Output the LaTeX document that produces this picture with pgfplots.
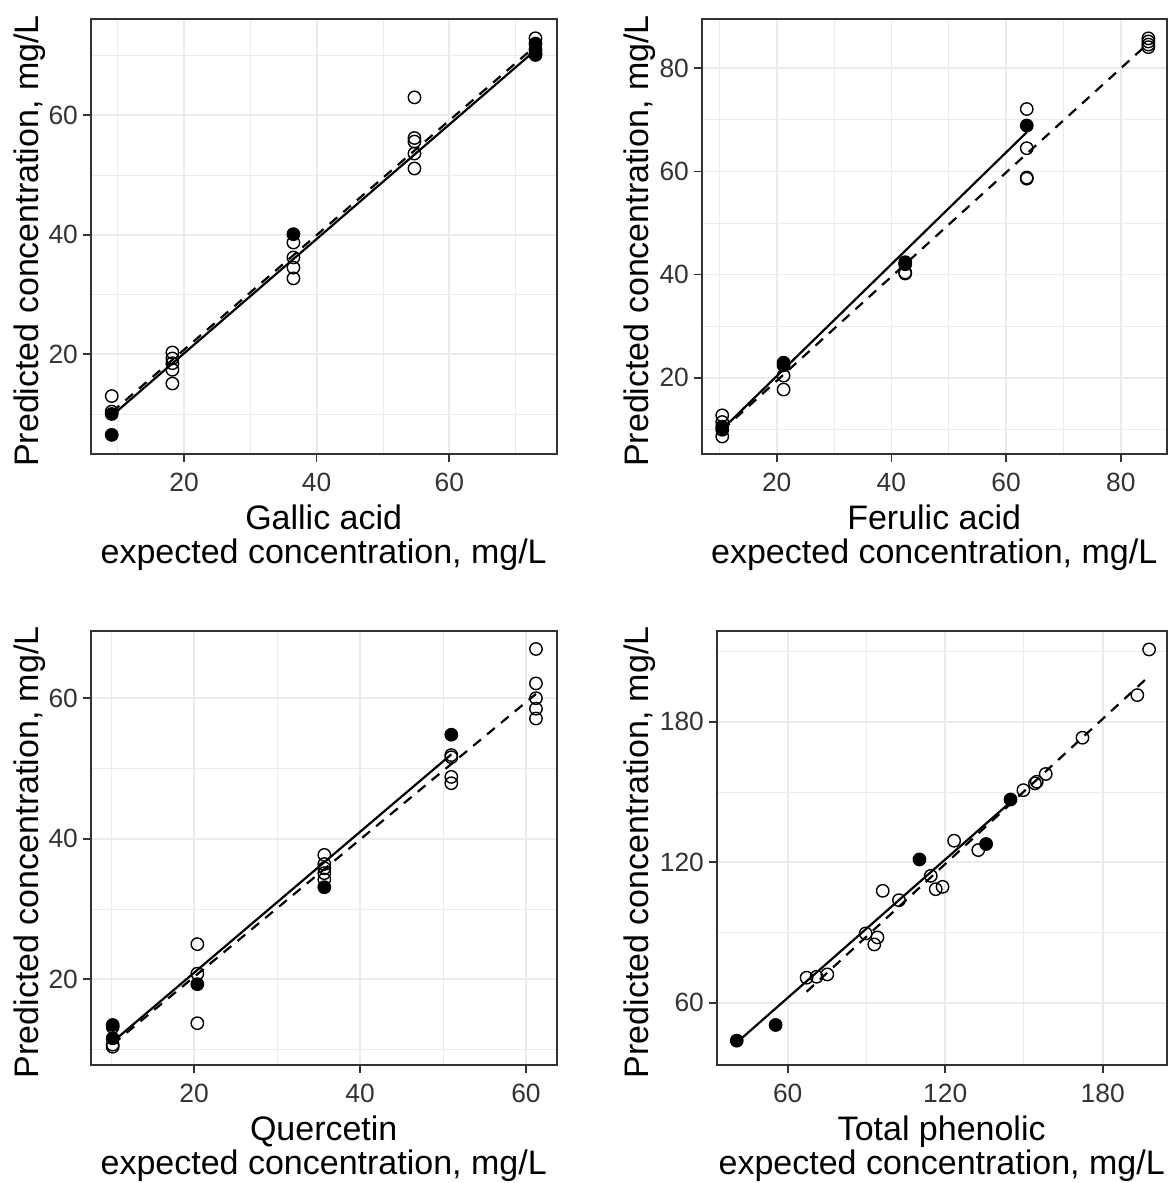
\documentclass[border=0pt]{standalone}
\usepackage{fontspec}
\setmainfont{Liberation Sans}
\usepackage{pgfplots}
\pgfplotsset{compat=1.18}
\definecolor{frame}{HTML}{333333}
\definecolor{gridc}{HTML}{EBEBEB}
\definecolor{ticktext}{HTML}{333333}
\pgfplotsset{
  panel/.style={
    scale only axis, anchor=south west,
    axis line style={draw=frame, line width=0.85pt},
    tick style={draw=frame, line width=0.85pt},
    major tick length=4pt, minor tick length=0pt,
    tick align=outside, tick pos=left,
    grid=both,
    major grid style={draw=gridc, line width=0.9pt},
    minor grid style={draw=gridc, line width=0.45pt},
    /pgf/number format/assume math mode=true,
    ticklabel style={font=\fontsize{13.2}{15}\selectfont, text=ticktext},
    xticklabel style={anchor=north, inner sep=0pt, yshift=-5.5pt},
    yticklabel style={anchor=east, inner sep=0pt, xshift=-2.2pt},
    label style={font=\fontsize{17}{17}\selectfont},
    xlabel style={at={(rel axis cs:0.5,0)}, anchor=north, inner sep=0pt, align=center, yshift=-25.4pt},
    ylabel={Predicted concentration, mg/L},
    clip=false,
  },
  opn/.style={only marks, mark=o, mark size=3.1pt, mark options={line width=0.7pt, draw=black}},
  fil/.style={only marks, mark=*, mark size=3.1pt, mark options={line width=0.7pt, draw=black, fill=black}},
  sol/.style={no marks, black, line width=1.1pt},
  dsh/.style={no marks, black, line width=1.1pt, dash pattern=on 5pt off 4pt},
}
\begin{document}
\begin{tikzpicture}
% Panel 1: Gallic acid
\begin{axis}[panel, at={(45.35pt,-227pt)}, width=233pt, height=217.35pt,
  xmin=5.93, xmax=76.2, ymin=3.3, ymax=76.07,
  xtick={20,40,60}, ytick={20,40,60}, minor xtick={10,30,50,70}, minor ytick={10,30,50,70},
  xlabel={Gallic acid\\expected concentration, mg/L},
  ylabel style={at={(rel axis cs:-0.1667,0.49)}, anchor=north, inner sep=0pt}]
\addplot[opn] coordinates {(9.1,13.0) (9.1,10.4) (18.25,20.3) (18.25,19.3) (18.25,18.5) (18.25,17.4) (18.25,15.1)
 (36.5,38.7) (36.5,36.2) (36.5,34.5) (36.5,32.7) (54.75,63.0) (54.75,56.2) (54.75,55.6) (54.75,53.6) (54.75,51.1)
 (73,72.9) (73,70.3)};
\addplot[fil] coordinates {(9.1,10.0) (9.1,6.5) (36.5,40.1) (73,72.0) (73,71.0) (73,70.1)};
\addplot[sol] coordinates {(9.1,9.7) (73,70.9)};
\addplot[dsh] coordinates {(9.1,10.3) (73,71.6)};
\end{axis}
% Panel 2: Ferulic acid
\begin{axis}[panel, at={(350.85pt,-227pt)}, width=232.5pt, height=217.35pt,
  xmin=6.92, xmax=88.0, ymin=5.2, ymax=89.5,
  xtick={20,40,60,80}, ytick={20,40,60,80}, minor xtick={10,30,50,70}, minor ytick={10,30,50,70},
  xlabel={Ferulic acid\\expected concentration, mg/L},
  ylabel style={at={(rel axis cs:-0.1692,0.49)}, anchor=north, inner sep=0pt}]
\addplot[opn] coordinates {(10.5,12.7) (10.5,11.4) (10.5,8.6) (21.2,20.4) (21.2,17.7) (42.4,40.4) (42.4,40.2)
 (63.6,72.1) (63.6,64.5) (63.6,58.8) (63.6,58.6) (84.8,85.8) (84.8,85.2) (84.8,84.6) (84.8,84.1)};
\addplot[fil] coordinates {(10.5,10.5) (10.5,9.9) (21.2,22.9) (21.2,22.4) (42.4,42.4) (42.4,42.0) (63.6,68.9)};
\addplot[sol] coordinates {(10.5,10.0) (63.6,67.6)};
\addplot[dsh] coordinates {(10.5,9.8) (84.8,84.85)};
\end{axis}
% Panel 3: Quercetin
\begin{axis}[panel, at={(45.35pt,-532.5pt)}, width=233pt, height=217.15pt,
  xmin=7.55, xmax=63.7, ymin=7.8, ymax=69.6,
  xtick={20,40,60}, ytick={20,40,60}, minor xtick={10,30,50}, minor ytick={10,30,50},
  xlabel={Quercetin\\expected concentration, mg/L},
  ylabel style={at={(rel axis cs:-0.1667,0.49)}, anchor=north, inner sep=0pt}]
\addplot[opn] coordinates {(10.2,13.2) (10.2,10.7) (10.2,10.4) (20.4,25.0) (20.4,20.8) (20.4,13.75)
 (35.7,37.7) (35.7,36.4) (35.7,35.8) (35.7,35.1) (35.7,34.2) (51.0,51.9) (51.0,51.6) (51.0,48.8) (51.0,47.9)
 (61.2,67.0) (61.2,62.1) (61.2,60.0) (61.2,58.5) (61.2,57.1)};
\addplot[fil] coordinates {(10.2,13.5) (10.2,11.6) (20.4,19.3) (35.7,33.1) (51.0,54.8)};
\addplot[sol] coordinates {(10.2,11.1) (51.0,52.0)};
\addplot[dsh] coordinates {(10.2,10.75) (61.2,60.6)};
\end{axis}
% Panel 4: Total phenolic
\begin{axis}[panel, at={(358.35pt,-532.5pt)}, width=225pt, height=217.15pt,
  xmin=32.95, xmax=204.4, ymin=33.4, ymax=218.9,
  xtick={60,120,180}, ytick={60,120,180}, minor xtick={90,150}, minor ytick={90,150,210},
  xlabel={Total phenolic\\expected concentration, mg/L},
  ylabel style={at={(rel axis cs:-0.2082,0.49)}, anchor=north, inner sep=0pt}]
\addplot[opn] coordinates {(67.2,70.7) (71.0,71.1) (75.1,72.1) (89.7,89.6) (94.2,87.9) (93.0,84.9) (96.2,107.8)
 (102.4,103.8) (114.5,114.2) (116.4,108.5) (119.0,109.5) (123.4,129.2) (132.6,125.2) (149.8,150.8) (154.2,153.7)
 (154.9,154.4) (158.3,157.7) (172.3,173.2) (193.2,191.4) (197.7,210.9)};
\addplot[fil] coordinates {(40.6,43.8) (55.4,50.5) (110.2,121.2) (135.6,127.8) (144.9,146.8)};
\addplot[sol] coordinates {(40.6,43.0) (144.9,145.7)};
\addplot[dsh] coordinates {(67.2,64.7) (197.7,199.5)};
\end{axis}
\pgfresetboundingbox
\path (0,0) rectangle (585.5pt,-591.5pt);
\end{tikzpicture}
\end{document}
